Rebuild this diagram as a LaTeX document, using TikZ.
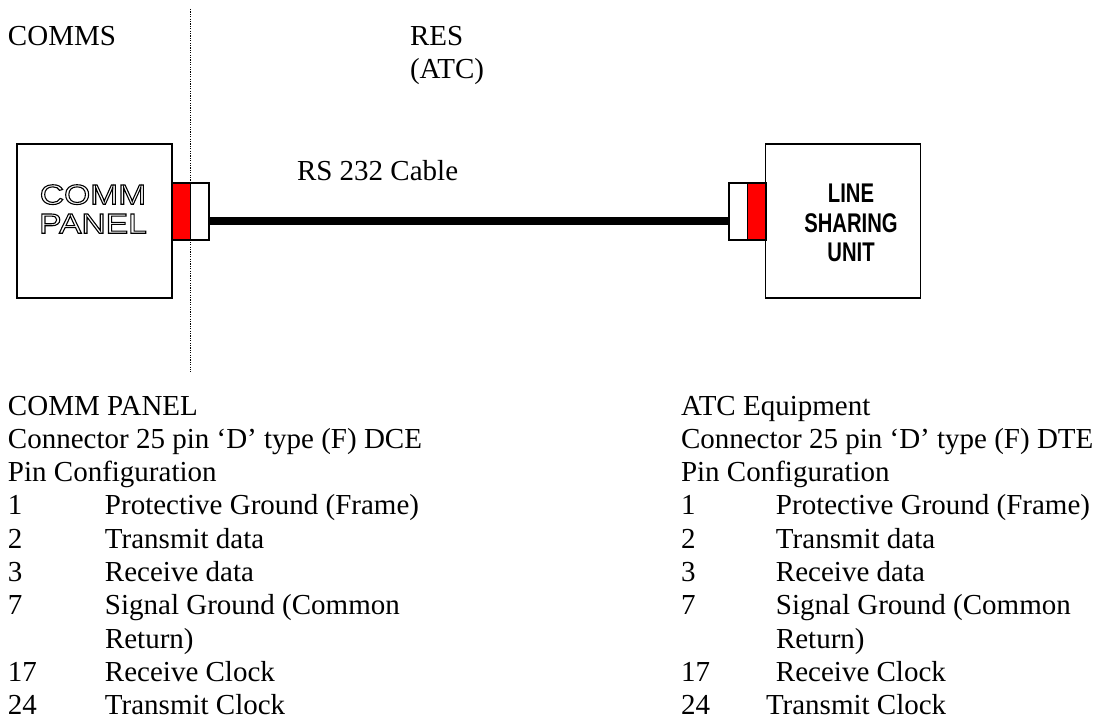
\documentclass[tikz,border=0pt]{standalone}
\usepackage{fontspec}
\setmainfont{Liberation Serif}
\newfontfamily\panelfont[FakeStretch=1.2]{Liberation Sans}
\newfontfamily\unitfont[FakeStretch=0.75]{Liberation Sans}
\usetikzlibrary{positioning}
\newcommand{\hollowtext}[1]{\special{pdf:literal direct 1 Tr 1.1 w}#1\special{pdf:literal direct 0 Tr}}

\begin{document}
\begin{tikzpicture}[
	x=1pt, y=-1pt,
	every node/.style={inner sep=0pt, outer sep=0pt},
	txt/.style={anchor=base west, font=\fontsize{29}{33.3}\selectfont},
	unitbox/.style={draw, line width=1.5pt, fill=white, minimum width=155pt, minimum height=154pt},
	plug/.style={draw, line width=1.3pt, minimum width=18.5pt, minimum height=57pt},
	cable/.style={line width=8pt},
	divider/.style={line width=1pt, dash pattern=on 1.2pt off 1.2pt}
	]
	\useasboundingbox (0,0) rectangle (1102,721);
	
	% boundary between the two sides
	\coordinate (divTop) at (190,9);
	\coordinate (divBot) at (190,372);
	\draw[divider] (divTop) -- (divBot);
	
	\node[txt] (comms) at (8,45) {COMMS};
	\node[txt] (res) at (410,45) {\begin{tabular}[t]{@{}l@{}}RES\\(ATC)\end{tabular}};
	\node[txt] (cableTxt) at (297,180) {RS 232 Cable};
	
	% units and plugs
	\node[unitbox] (panel) at (94.5,221) {};
	\node[unitbox] (lsu) at (843,221) {};
	\node[plug, fill=red, anchor=north west] (panelRed) at (172,183) {};
	\node[plug, fill=white, right=0pt of panelRed] (panelPlug) {};
	\node[plug, fill=red, anchor=north east] (lsuRed) at (766,183) {};
	\node[plug, fill=white, left=0pt of lsuRed] (lsuPlug) {};
	
	\node[font=\panelfont\fontsize{28}{29}\selectfont, align=center] (panelTxt) at (93,209) {\hollowtext{COMM}\\\hollowtext{PANEL}};
	\node[font=\unitfont\bfseries\fontsize{27}{29.5}\selectfont, align=center] (lsuTxt) at (851,223) {LINE\\SHARING\\UNIT};
	
	\draw[cable] ([yshift=-9.5pt]panelPlug.east) -- ([yshift=-9.5pt]lsuPlug.west);
	
	% pin lists
	\node[txt] (dceList) at (8,415) {\begin{tabular}[t]{@{}p{97pt}@{}l@{}}
		\multicolumn{2}{@{}l@{}}{COMM PANEL}\\
		\multicolumn{2}{@{}l@{}}{Connector 25 pin ‘D’ type (F) DCE}\\
		\multicolumn{2}{@{}l@{}}{Pin Configuration}\\
		1 & Protective Ground (Frame)\\
		2 & Transmit data\\
		3 & Receive data\\
		7 & Signal Ground (Common\\
		  & Return)\\
		17 & Receive Clock\\
		24 & Transmit Clock
	\end{tabular}};
	\node[txt] (dteList) at (681,415) {\begin{tabular}[t]{@{}p{95pt}@{}l@{}}
		\multicolumn{2}{@{}l@{}}{ATC Equipment}\\
		\multicolumn{2}{@{}l@{}}{Connector 25 pin ‘D’ type (F) DTE}\\
		\multicolumn{2}{@{}l@{}}{Pin Configuration}\\
		1 & Protective Ground (Frame)\\
		2 & Transmit data\\
		3 & Receive data\\
		7 & Signal Ground (Common\\
		  & Return)\\
		17 & Receive Clock\\
		24 & \hspace{-10pt}Transmit Clock
	\end{tabular}};
	
\end{tikzpicture}
\end{document}
